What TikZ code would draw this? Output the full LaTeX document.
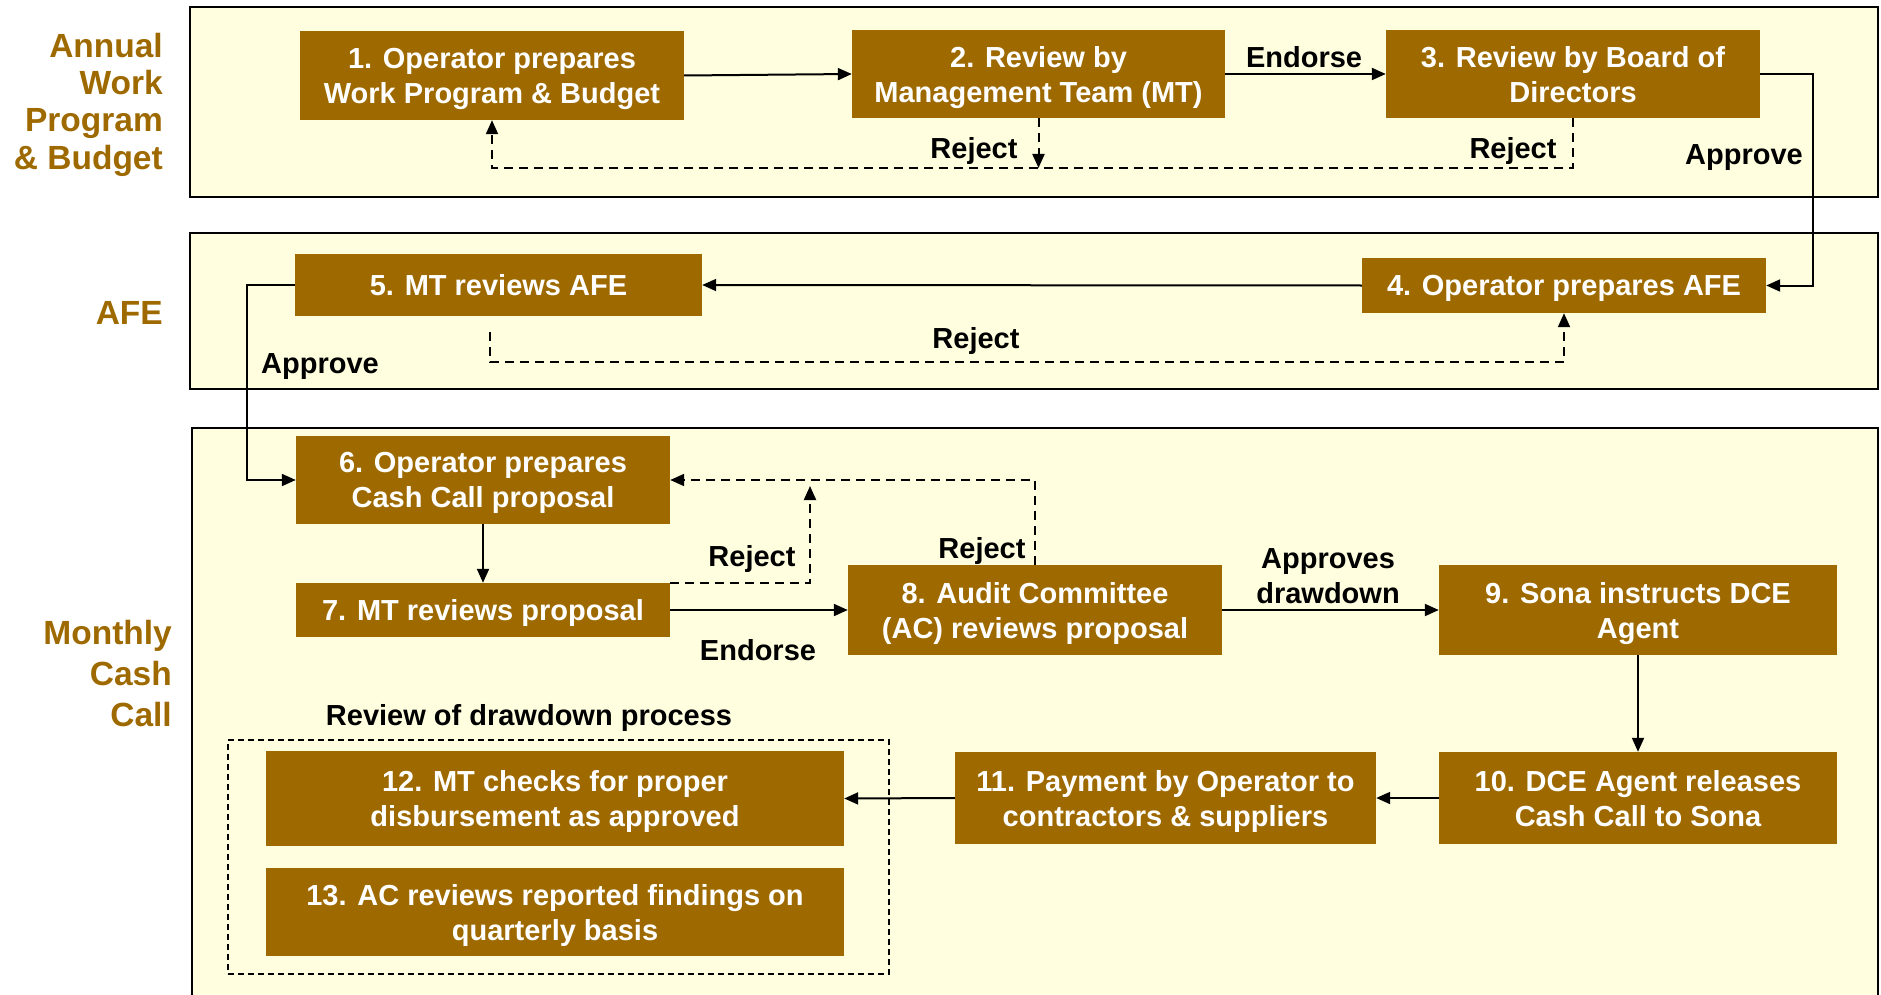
\documentclass[tikz,border=0pt]{standalone}
\usepackage{fontspec}
\setmainfont{Liberation Sans}
\usetikzlibrary{arrows.meta}
\definecolor{boxbrown}{RGB}{158,106,0}
\definecolor{paleyellow}{RGB}{255,255,224}
\begin{document}
\begin{tikzpicture}[x=1pt,y=-1pt,
  frame/.style={draw=black, line width=2.2pt, fill=paleyellow},
  stepbox/.style={fill=boxbrown, text=white, font=\bfseries\fontsize{29}{35}\selectfont, align=center, inner sep=0pt, text depth=0pt},
  lbl/.style={font=\bfseries\fontsize{29}{35}\selectfont, text=black, inner sep=0pt, align=center},
  sect/.style={font=\bfseries\fontsize{33.5}{37.3}\selectfont, text=boxbrown, inner sep=0pt, align=right, anchor=east, text depth=0pt},
  conn/.style={draw=black, line width=2pt, -{Triangle[length=14pt,width=12pt]}},
  rej/.style={draw=black, line width=2pt, dash pattern=on 9pt off 6pt, -{Triangle[length=14pt,width=12pt]}},
  grpbox/.style={draw=black, line width=1.6pt, dash pattern=on 6pt off 4pt},
]
\useasboundingbox (0,0) rectangle (1881,995);
\fill[white] (0,0) rectangle (1881,995);

% frames
\draw[frame] (190,7) rectangle (1878,197);
\draw[frame] (190,233) rectangle (1878,389);
\draw[frame] (192,428) rectangle (1878,1010);

% section labels
\node[sect] (sAnnual) at (163,101) {Annual\\Work\\Program\\\& Budget};
\node[sect] (sAFE) at (163,313) {AFE};
\node[sect, font=\bfseries\fontsize{33.5}{41}\selectfont] (sMonthly) at (172,673) {Monthly\\Cash\\Call};

% boxes
\node[stepbox, minimum width=384pt, minimum height=89pt] (b1) at (492,75.5) {1. Operator prepares\\Work Program \& Budget};
\node[stepbox, minimum width=373pt, minimum height=88pt] (b2) at (1038.5,74) {2. Review by\\Management Team (MT)};
\node[stepbox, minimum width=374pt, minimum height=88pt] (b3) at (1573,74) {3. Review by Board of\\Directors};
\node[stepbox, minimum width=404pt, minimum height=55pt] (b4) at (1564,285.5) {4. Operator prepares AFE};
\node[stepbox, minimum width=407pt, minimum height=62pt] (b5) at (498.5,285) {5. MT reviews AFE};
\node[stepbox, minimum width=374pt, minimum height=88pt] (b6) at (483,480) {6. Operator prepares\\Cash Call proposal};
\node[stepbox, minimum width=374pt, minimum height=54pt] (b7) at (483,610) {7. MT reviews proposal};
\node[stepbox, minimum width=374pt, minimum height=90pt] (b8) at (1035,610) {8. Audit Committee\\(AC) reviews proposal};
\node[stepbox, minimum width=398pt, minimum height=90pt] (b9) at (1638,610) {9. Sona instructs DCE\\Agent};
\node[stepbox, minimum width=398pt, minimum height=92pt] (b10) at (1638,798) {10. DCE Agent releases\\Cash Call to Sona};
\node[stepbox, minimum width=421pt, minimum height=92pt] (b11) at (1165.5,798) {11. Payment by Operator to\\contractors \& suppliers};
\node[stepbox, minimum width=578pt, minimum height=95pt] (b12) at (555,798.5) {12. MT checks for proper\\disbursement as approved};
\node[stepbox, minimum width=578pt, minimum height=88pt] (b13) at (555,912) {13. AC reviews reported findings on\\quarterly basis};

% group box
\node[grpbox, minimum width=661pt, minimum height=234pt, inner sep=0pt] (grp) at (558.5,857) {};
\node[lbl] (grplbl) at (529,718) {Review of drawdown process};

% helper coordinates
\coordinate (tr) at (1813,0);
\coordinate (rj1) at (0,168);
\coordinate (rj2) at (0,362);
\coordinate (ar) at (490,332);
\coordinate (lx) at (247,0);
\coordinate (r7end) at (810,486);

% connectors
\draw[conn] (b1.east) -- (b2.west);
\draw[conn] (b2.east) -- (b3.west);
\draw[conn] (b3.east) -- (tr |- b3.east) |- (b4.east);
\draw[rej] (b3.south) -- (b3.south |- rj1) -| (b1.south);
\draw[rej] (b2.south) -- (b2.south |- rj1);
\draw[conn] (b4.west) -- (b5.east);
\draw[rej] (ar) -- (ar |- rj2) -| (b4.south);
\draw[conn] (b5.west) -- (lx |- b5.west) |- (b6.west);
\draw[conn] (b6.south) -- (b7.north);
\draw[rej] (b7.north east) -| (r7end);
\draw[rej] (b8.north) |- (b6.east);
\draw[conn] (b7.east) -- (b8.west);
\draw[conn] (b8.east) -- (b9.west);
\draw[conn] (b9.south) -- (b10.north);
\draw[conn] (b10.west) -- (b11.east);
\draw[conn] (b11.west) -- (b12.east);

% labels
\node[lbl] (lEndorse1) at (1304,57) {Endorse};
\node[lbl] (lApprove1) at (1744,158) {Approve};
\node[lbl] (lRej1) at (974,151) {Reject};
\node[lbl] (lRej2) at (1513,151) {Reject};
\node[lbl] (lRej3) at (976,341) {Reject};
\node[lbl] (lApprove2) at (320,367) {Approve};
\node[lbl] (lRej4) at (752,559) {Reject};
\node[lbl] (lRej5) at (982,551) {Reject};
\node[lbl] (lEndorse2) at (758,650) {Endorse};
\node[lbl] (lAppr) at (1328,576) {Approves\\drawdown};
\end{tikzpicture}
\end{document}
